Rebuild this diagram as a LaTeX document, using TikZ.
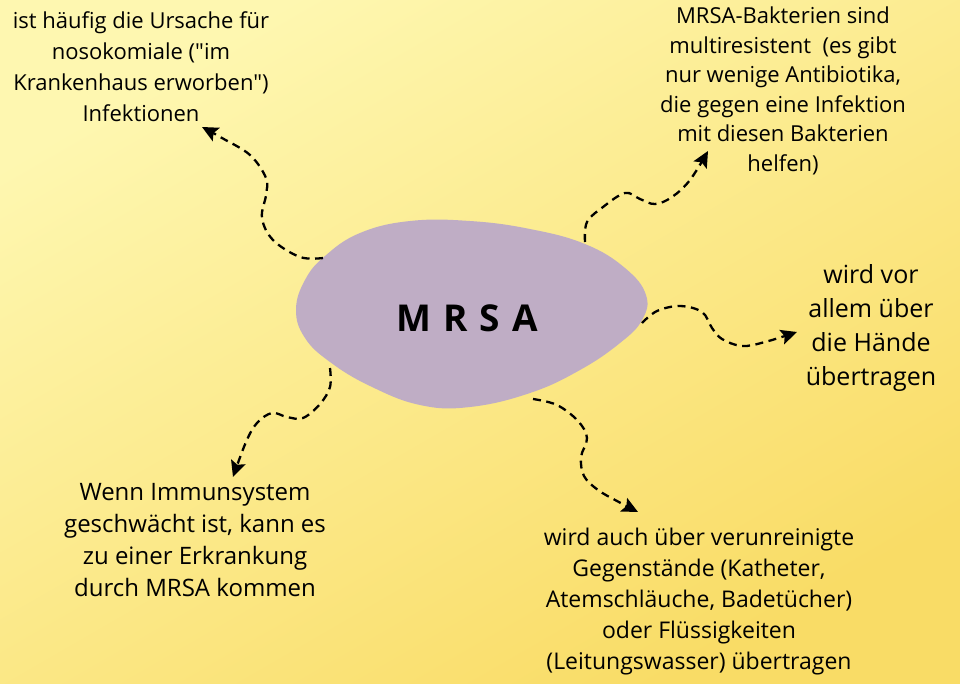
\documentclass[tikz,border=0pt]{standalone}
\usepackage{fontspec}
\setmainfont{Open Sans}[Ligatures=TeXOff]
\usetikzlibrary{arrows.meta}
\definecolor{bgtop}{HTML}{FEF7B0}
\definecolor{bgbot}{HTML}{F9DC66}
\definecolor{blobfill}{HTML}{BFADC5}
\tikzset{
  link/.style={line width=2.3pt, dash pattern=on 8pt off 5.5pt,
    -{Stealth[length=16pt,width=15pt,inset=3pt]}},
  txt/.style={align=center, inner sep=0pt, font=\fontsize{22}{31}\selectfont},
}

\begin{document}
\begin{tikzpicture}[x=1pt,y=1pt]
			%%%%% START %%%%%
			
			\shade[top color=bgtop, bottom color=bgbot, shading angle=30] (0,0) rectangle (960,-683);
			\useasboundingbox (0,0) rectangle (960,-683);
			
			% blob in the middle
			\fill[blobfill] plot[smooth cycle, tension=0.7] coordinates {(296,-310) (305,-280) (325,-256) (360,-233) (410,-221) (470,-221) (530,-229) (585,-244) (625,-268) (646,-295) (642,-320) (620,-343) (580,-370) (530,-393) (470,-407) (420,-405) (370,-386) (330,-362) (305,-338)};
			\node (mrsa) at (467,-318) {\fontsize{37}{40}\selectfont\bfseries M\kern12pt R\kern12pt S\kern12pt A};
			
			% texts
			\node[txt] (infekt) at (141,-67) {ist häufig die Ursache für\\nosokomiale ("im\\Krankenhaus erworben")\\Infektionen};
			\node[txt, font=\fontsize{22}{29.5}\selectfont] (resist) at (783,-91) {MRSA-Bakterien sind\\multiresistent\ \ (es gibt\\nur wenige Antibiotika,\\die gegen eine Infektion\\mit diesen Bakterien\\helfen)};
			\node[txt, font=\fontsize{25}{34}\selectfont] (haende) at (871,-328) {wird vor\\allem über\\die Hände\\übertragen};
			\node[txt, font=\fontsize{24}{32}\selectfont] (immun) at (195,-540) {Wenn Immunsystem\\geschwächt ist, kann es\\zu einer Erkrankung\\durch MRSA kommen};
			\node[txt, font=\fontsize{23}{31}\selectfont] (gegen) at (699,-602) {wird auch über verunreinigte\\Gegenstände (Katheter,\\Atemschläuche, Badetücher)\\oder Flüssigkeiten\\(Leitungswasser) übertragen};
			
			% ends of the arrows
			\coordinate (s1) at (323,-258); \coordinate (e1) at (202,-127);
			\coordinate (s2) at (585,-242); \coordinate (e2) at (708,-151);
			\coordinate (s3) at (642,-323); \coordinate (e3) at (797,-332);
			\coordinate (s4) at (330,-368); \coordinate (e4) at (233,-477);
			\coordinate (s5) at (533,-399); \coordinate (e5) at (638,-512);
			
			\draw[link] plot[smooth, tension=0.6] coordinates {(s1) (300,-257) (273,-240) (262,-218) (266,-195) (266,-178) (250,-155) (222,-138) (e1)};
			\draw[link] plot[smooth, tension=0.6] coordinates {(s2) (587,-222) (603,-207) (625,-193) (640,-199) (655,-204) (672,-197) (690,-180) (e2)};
			\draw[link] plot[smooth, tension=0.6] coordinates {(s3) (657,-311) (680,-306) (702,-312) (712,-328) (722,-339) (742,-346) (765,-342) (e3)};
			\draw[link] plot[smooth, tension=0.6] coordinates {(s4) (330,-387) (320,-404) (303,-418) (287,-417) (272,-413) (257,-423) (246,-442) (e4)};
			\draw[link] plot[smooth, tension=0.6] coordinates {(s5) (557,-405) (578,-421) (587,-438) (581,-457) (584,-476) (598,-490) (617,-501) (e5)};
			
			%%%%% END %%%%%
\end{tikzpicture}
\end{document}
